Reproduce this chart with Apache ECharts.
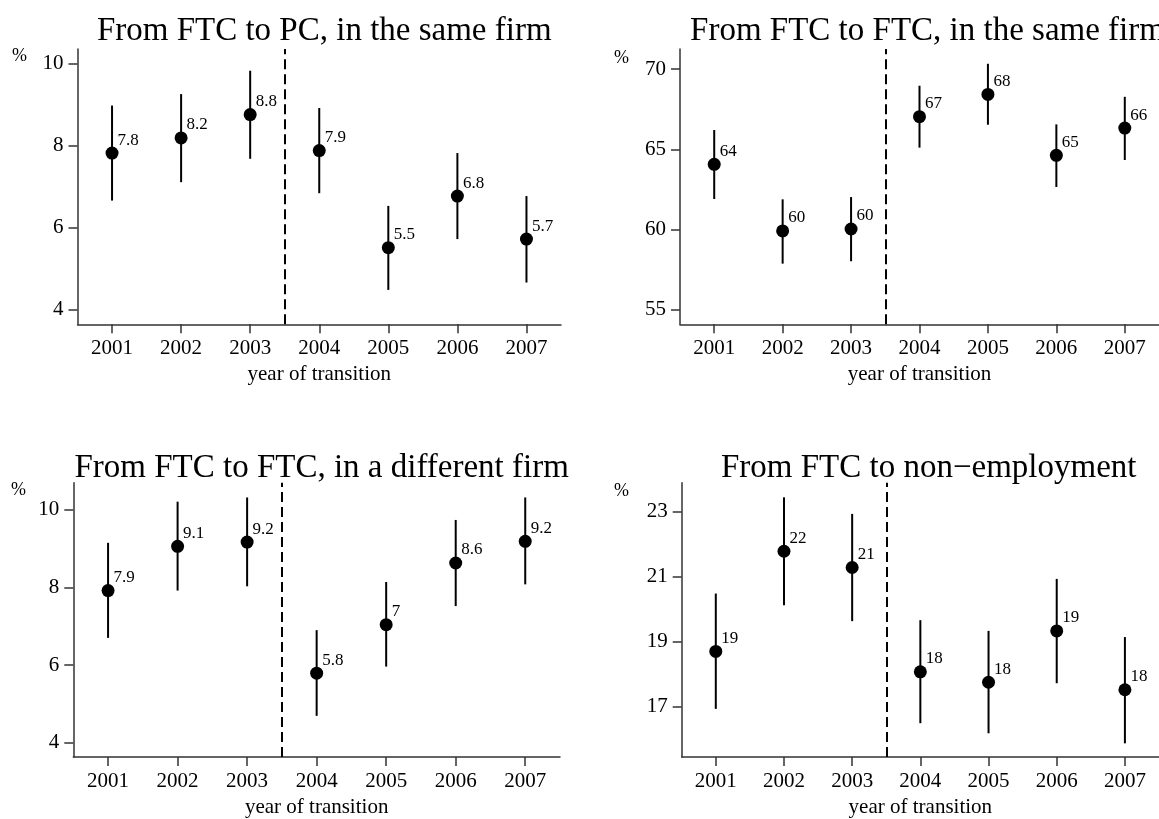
<!DOCTYPE html>
<html>
<head>
<meta charset="utf-8">
<script src="https://cdn.jsdelivr.net/npm/echarts@6/dist/echarts.min.js"></script>
<style>
html,body{margin:0;padding:0;background:#fff;}
#chart{width:1159px;height:819px;}
</style>
</head>
<body>
<div id="chart"></div>
<script>
// ---- data ----
const years = [2001, 2002, 2003, 2004, 2005, 2006, 2007];
const reformYear = 2003.5;

const titles = [
  'From FTC to PC, in the same firm',
  'From FTC to FTC, in the same firm',
  'From FTC to FTC, in a different firm',
  'From FTC to non\u2212employment'
];

// Panel 1: FTC -> PC, same firm
const p1Est = [7.82, 8.19, 8.76, 7.88, 5.51, 6.77, 5.72];
const p1Lo  = [6.66, 7.11, 7.68, 6.84, 4.48, 5.72, 4.66];
const p1Hi  = [8.98, 9.26, 9.83, 8.92, 6.53, 7.82, 6.77];
const p1Ticks = [4, 6, 8, 10];

// Panel 2: FTC -> FTC, same firm
const p2Est = [64.06, 59.91, 60.03, 67.03, 68.42, 64.62, 66.32];
const p2Lo  = [61.9, 57.87, 58.02, 65.1, 66.53, 62.65, 64.33];
const p2Hi  = [66.2, 61.88, 62.02, 68.96, 70.33, 66.55, 68.27];
const p2Ticks = [55, 60, 65, 70];

// Panel 3: FTC -> FTC, different firm
const p3Est = [7.92, 9.06, 9.17, 5.79, 7.04, 8.63, 9.19];
const p3Lo  = [6.70, 7.92, 8.03, 4.69, 5.96, 7.52, 8.08];
const p3Hi  = [9.15, 10.21, 10.32, 6.90, 8.14, 9.74, 10.32];
const p3Ticks = [4, 6, 8, 10];

// Panel 4: FTC -> non-employment
const p4Est = [18.71, 21.79, 21.29, 18.08, 17.76, 19.34, 17.53];
const p4Lo  = [16.94, 20.13, 19.64, 16.50, 16.19, 17.73, 15.88];
const p4Hi  = [20.49, 23.45, 22.94, 19.67, 19.34, 20.94, 19.15];
const p4Ticks = [17, 19, 21, 23];

const panelData = [
  {est: p1Est, lo: p1Lo, hi: p1Hi, ticks: p1Ticks, yMin: 3.64, yMax: 10.36},
  {est: p2Est, lo: p2Lo, hi: p2Hi, ticks: p2Ticks, yMin: 54.09, yMax: 71.25},
  {est: p3Est, lo: p3Lo, hi: p3Hi, ticks: p3Ticks, yMin: 3.63, yMax: 10.70},
  {est: p4Est, lo: p4Lo, hi: p4Hi, ticks: p4Ticks, yMin: 15.46, yMax: 23.90}
];

// ---- layout ----
const layout = [
  {left: 77.5, top: 49,    width: 483.5, height: 275.3},
  {left: 680,  top: 49,    width: 485,   height: 275.3},
  {left: 73.3, top: 482.7, width: 486.7, height: 275.6},
  {left: 681.7,top: 482.7, width: 484,   height: 275.6}
];
const titleTops = [10, 10, 447, 447];
const pctPos = [[20, 57], [622, 59], [19, 491], [622, 492]];

const FONT = 'Liberation Serif, Times New Roman, serif';
const AX = '#333';

const grids = [], xAxes = [], yAxes = [], series = [], titleOpts = [], graphics = [];

panelData.forEach((p, i) => {
  const L = layout[i];
  grids.push({left: L.left, top: L.top, width: L.width, height: L.height, containLabel: false});
  titleOpts.push({
    text: titles[i],
    left: L.left + L.width / 2,
    textAlign: 'center',
    top: titleTops[i],
    textStyle: {fontFamily: FONT, fontSize: 33, fontWeight: 'normal', color: '#000'}
  });
  xAxes.push({
    type: 'value', gridIndex: i, min: 2000.5, max: 2007.5,
    name: 'year of transition', nameLocation: 'middle', nameGap: 40,
    nameTextStyle: {fontFamily: FONT, fontSize: 21, color: '#000'},
    axisLine: {show: true, onZero: false, lineStyle: {color: AX, width: 1.5}},
    axisTick: {show: true, length: 9, customValues: years, lineStyle: {color: AX, width: 1.5}},
    axisLabel: {show: true, customValues: years, margin: 14, fontFamily: FONT, fontSize: 21, color: '#000',
      formatter: v => String(v)},
    splitLine: {show: false}
  });
  yAxes.push({
    type: 'value', gridIndex: i, min: p.yMin, max: p.yMax,
    axisLine: {show: true, onZero: false, lineStyle: {color: AX, width: 1.5}},
    axisTick: {show: true, length: 9, customValues: p.ticks, lineStyle: {color: AX, width: 1.5}},
    axisLabel: {show: true, customValues: p.ticks, margin: 14, fontFamily: FONT, fontSize: 21, color: '#000',
      formatter: v => String(v)},
    splitLine: {show: false}
  });
  // confidence intervals
  series.push({
    type: 'custom', xAxisIndex: i, yAxisIndex: i, z: 2, silent: true,
    data: years.map((y, k) => [y, p.lo[k], p.hi[k]]),
    renderItem: function (params, api) {
      const a = api.coord([api.value(0), api.value(1)]);
      const b = api.coord([api.value(0), api.value(2)]);
      return {type: 'line', shape: {x1: a[0], y1: a[1], x2: b[0], y2: b[1]},
        style: {stroke: '#000', lineWidth: 2}};
    }
  });
  // point estimates
  series.push({
    type: 'scatter', xAxisIndex: i, yAxisIndex: i, z: 3, silent: true,
    symbol: 'circle', symbolSize: 13,
    itemStyle: {color: '#000', opacity: 1},
    data: years.map((y, k) => [y, p.est[k]]),
    label: {
      show: true, position: [12, 2], align: 'left', verticalAlign: 'bottom',
      fontFamily: FONT, fontSize: 17, color: '#000',
      formatter: d => String(Number(d.value[1].toPrecision(2)))
    },
    markLine: {
      silent: true, symbol: ['none', 'none'], label: {show: false},
      lineStyle: {type: [10, 5], color: '#000', width: 2},
      data: [{xAxis: reformYear}]
    }
  });
  graphics.push({
    type: 'text', left: pctPos[i][0] - 8, top: pctPos[i][1] - 10,
    style: {text: '%', fontFamily: FONT, fontSize: 18, fill: '#000'}
  });
});

const chart = echarts.init(document.getElementById('chart'), null, {renderer: 'canvas'});
chart.setOption({
  animation: false,
  backgroundColor: '#fff',
  title: titleOpts,
  grid: grids,
  xAxis: xAxes,
  yAxis: yAxes,
  series: series,
  graphic: graphics
});
</script>
</body>
</html>
